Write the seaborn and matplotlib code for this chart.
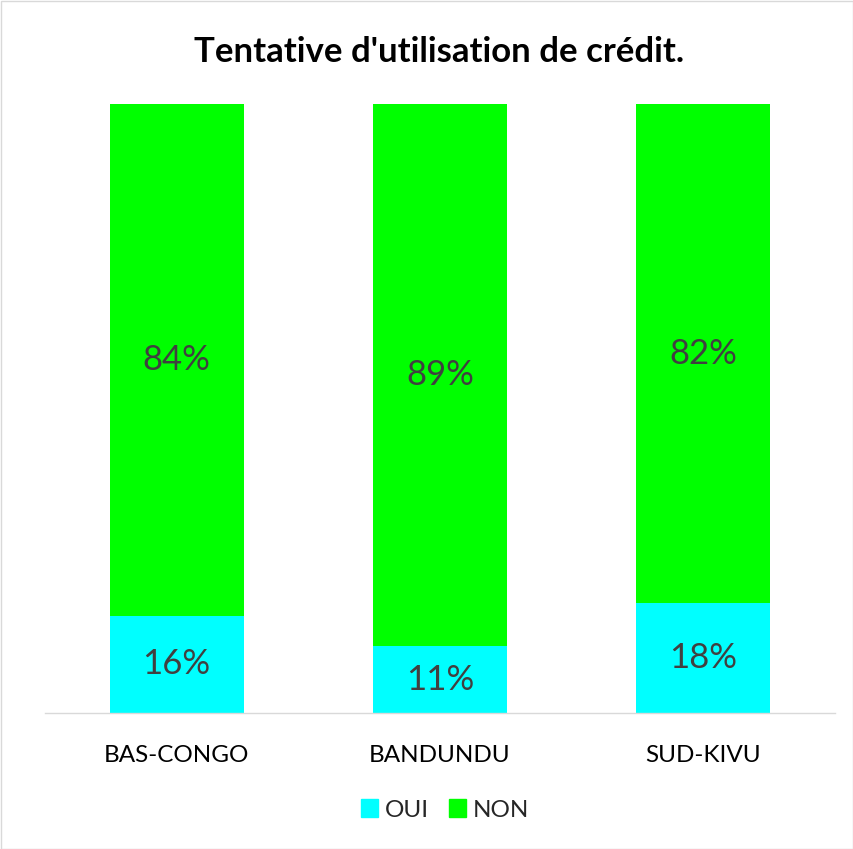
import matplotlib
matplotlib.use("Agg")
import matplotlib.pyplot as plt
import matplotlib.patches as mpatches
import seaborn as sns
import pandas as pd

categories = ["BAS-CONGO", "BANDUNDU", "SUD-KIVU"]
oui = [16, 11, 18]
non = [84, 89, 82]
series_names = ["OUI", "NON"]
title = "Tentative d'utilisation de crédit."

sns.set_theme(style="white")
plt.rcParams['font.family'] = ['Lato', 'DejaVu Sans']

c_oui = "#00FFFF"
c_non = "#00FF00"
txt = "#404040"

fig = plt.figure(figsize=(8.54, 8.49), dpi=100)
ax = fig.add_axes([45/854, 1-713/849, 790/854, (713-104)/849])

df = pd.DataFrame({"cat": categories, "oui": oui, "non": non})
df["total"] = df["oui"] + df["non"]

sns.barplot(data=df, x="cat", y="total", color=c_non, width=0.51, ax=ax,
            saturation=1, edgecolor="none", linewidth=0)
sns.barplot(data=df, x="cat", y="oui", color=c_oui, width=0.51, ax=ax,
            saturation=1, edgecolor="none", linewidth=0)

ax.set_ylim(0, 100)
ax.set_xlim(-0.5, 2.5)
for i, (o, n) in enumerate(zip(oui, non)):
    ax.text(i, o / 2, f"{o}%", ha="center", va="center", fontsize=25, color=txt)
    ax.text(i, o + n / 2, f"{n}%", ha="center", va="center", fontsize=25, color=txt)

ax.set_xlabel("")
ax.set_ylabel("")
ax.set_yticks([])
ax.tick_params(axis="x", length=0, pad=23, labelsize=17.5, labelcolor="black")
for s in ["top", "right", "left"]:
    ax.spines[s].set_visible(False)
ax.spines["bottom"].set_color("#d9d9d9")
ax.spines["bottom"].set_linewidth(1)

fig.text(439/854, 1-52/849, title, ha="center", va="center", fontsize=25,
         fontweight="bold", color="black")

handles = [mpatches.Patch(color=c_oui, label=series_names[0]),
           mpatches.Patch(color=c_non, label=series_names[1])]
fig.legend(handles=handles, loc="center", bbox_to_anchor=(445/854, 1-810/849),
           ncol=2, frameon=False, fontsize=17.5, handlelength=0.7, handleheight=0.7,
           handletextpad=0.3, columnspacing=0.8)

fig.add_artist(mpatches.Rectangle((0.5/854, 0.5/849), 1-1.5/854, 1-1.5/849,
                                  transform=fig.transFigure, fill=False,
                                  edgecolor="#d9d9d9", linewidth=1))

fig.savefig("out.png", dpi=100)
